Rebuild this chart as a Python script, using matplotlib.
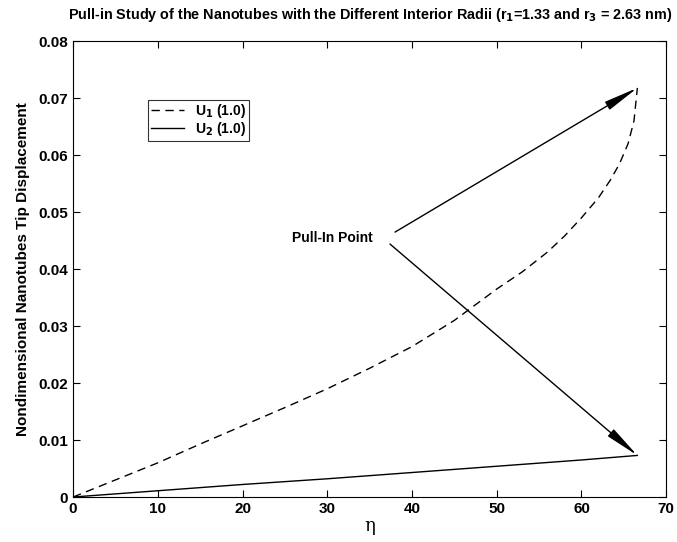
import numpy as np
import matplotlib
matplotlib.use('Agg')
import matplotlib.pyplot as plt

# values
eta_u1 = [0, 5, 10, 15, 20, 25, 30, 35, 40, 45, 50, 53, 56, 58, 60, 62, 63.4, 64.5, 65.5, 66.2, 66.6]
u1 = [0, 0.0030, 0.0060, 0.0093, 0.0125, 0.0157, 0.0190, 0.0226, 0.0264, 0.0310, 0.0365, 0.0395, 0.0430,
      0.0458, 0.0490, 0.0525, 0.0556, 0.0585, 0.0620, 0.0660, 0.0718]
eta_u2 = [0, 10, 20, 30, 40, 50, 60, 66.6]
u2 = [0, 0.0011, 0.0022, 0.0032, 0.0043, 0.0054, 0.0065, 0.0073]

label_pos = (30.6, 0.0455)
arrow_starts = [(38.0, 0.0465), (37.4, 0.0444)]
arrow_ends = [(66.6, 0.0718), (66.6, 0.0073)]

plt.rcParams['font.family'] = ['Liberation Sans', 'DejaVu Sans']
plt.rcParams['font.weight'] = 'bold'
plt.rcParams['mathtext.default'] = 'bf'

fig = plt.figure(figsize=(6.77, 5.42), dpi=100)
ax = fig.add_axes([0.108, 0.083, 0.876, 0.841])

ax.plot(eta_u1, u1, 'k--', lw=1.0, dashes=(6, 4), label='U$_\\mathbf{1}$ (1.0)')
ax.plot(eta_u2, u2, color='k', lw=1.0, label='U$_\\mathbf{2}$ (1.0)')

for s, e in zip(arrow_starts, arrow_ends):
    ax.annotate('', xy=e, xytext=s,
                arrowprops=dict(arrowstyle='-|>,head_length=1.5,head_width=0.2',
                                color='k', lw=1.0, shrinkA=0, shrinkB=0,
                                mutation_scale=14))
ax.text(label_pos[0], label_pos[1], 'Pull-In Point', ha='center', va='center',
        fontsize=10, fontweight='bold')

ax.set_xlim(0, 70)
ax.set_ylim(0, 0.08)
ax.set_xticks(np.arange(0, 71, 10))
ax.set_yticks(np.arange(0, 0.081, 0.01))
ax.set_yticklabels(['0'] + ['%.2f' % v for v in np.arange(0.01, 0.081, 0.01)])
ax.tick_params(direction='in', top=True, right=True, labelsize=11, length=5, width=0.8)
for lab in ax.get_xticklabels() + ax.get_yticklabels():
    lab.set_fontweight('bold')
for sp in ax.spines.values():
    sp.set_linewidth(0.8)

ax.set_xlabel('\u03b7', fontsize=13, fontweight='normal', family='DejaVu Serif', labelpad=1)
ax.set_ylabel('Nondimensional Nanotubes Tip Displacement', fontsize=11, fontweight='bold', labelpad=6)
ax.set_title('Pull-in Study of the Nanotubes with the Different Interior Radii '
             '(r$_\\mathbf{1}$=1.33 and r$_\\mathbf{3}$ = 2.63 nm)',
             fontsize=10.4, fontweight='bold', pad=16)

leg = ax.legend(loc='upper left', bbox_to_anchor=(0.126, 0.872), fontsize=10,
                frameon=True, fancybox=False, edgecolor='k', labelspacing=0.0,
                handlelength=2.4, borderpad=0.2, handletextpad=0.8, borderaxespad=0)
leg.get_frame().set_linewidth(0.8)

fig.savefig('out.png', dpi=100)
